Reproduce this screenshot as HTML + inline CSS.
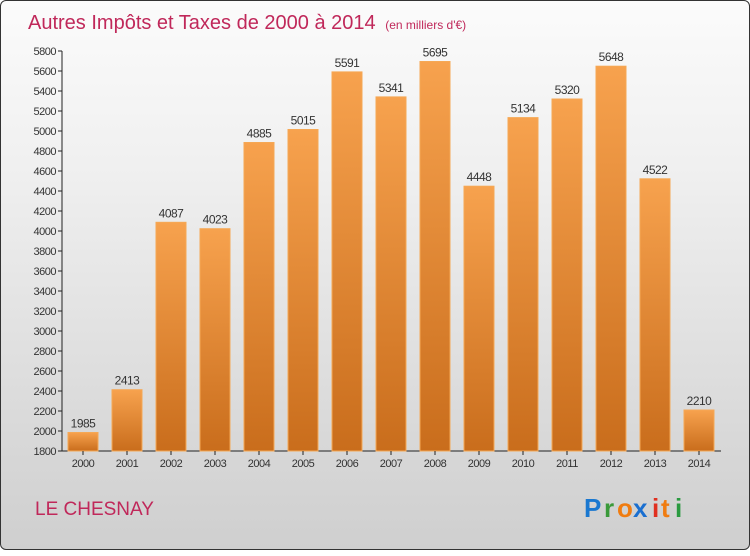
<!DOCTYPE html>
<html><head><meta charset="utf-8"><style>
body{margin:0;width:750px;height:550px;overflow:hidden;font-family:"Liberation Sans",sans-serif}
#wrap{position:absolute;left:0;top:0;width:748px;height:548px;border:1px solid #333;border-radius:6px;background:linear-gradient(#fbfbfb,#f0f0f0 30%,#d8d8d8 80%,#cfcfcf)}
</style></head><body>
<div id="wrap">
<svg width="750" height="550">
<defs><linearGradient id="bg" x1="0" y1="0" x2="0" y2="1"><stop offset="0" stop-color="#f7a24e"/><stop offset="1" stop-color="#c96d1c"/></linearGradient></defs>
<text x="27" y="28" font-size="20" fill="#c0285a">Autres Impôts et Taxes de 2000 à 2014 <tspan font-size="12" dx="4">(en milliers d'€)</tspan></text>
<g id="plot"></g>
<text x="34" y="514" font-size="19" fill="#c0285a">LE CHESNAY</text>
<g font-size="26" font-weight="bold" font-family="Liberation Sans,sans-serif">
<text x="583" y="516" fill="#1a78d0">P</text><text x="603" y="516" fill="#3a9a3a">r</text><text x="616" y="516" fill="#f07c10">o</text><text x="632" y="516" fill="#1a6fd0">x</text><text x="651" y="516" fill="#e03020">i</text><text x="660" y="516" fill="#f07c10">t</text><text x="674" y="516" fill="#2a9a40">i</text>
</g>
</svg></div>
<script>
const years=["2000","2001","2002","2003","2004","2005","2006","2007","2008","2009","2010","2011","2012","2013","2014"];
const values=[1985,2413,4087,4023,4885,5015,5591,5341,5695,4448,5134,5320,5648,4522,2210];
const yTicks=[1800,2000,2200,2400,2600,2800,3000,3200,3400,3600,3800,4000,4200,4400,4600,4800,5000,5200,5400,5600,5800];
const NS="http://www.w3.org/2000/svg",g=document.getElementById('plot');
const y=v=>450-(v-1800)*0.1, x=i=>82+i*44;
function el(t,a,txt){const e=document.createElementNS(NS,t);for(const k in a)e.setAttribute(k,a[k]);if(txt!=null)e.textContent=txt;g.appendChild(e);return e;}
let ax=el('line',{x1:61,y1:50,x2:61,y2:450,stroke:'#222'});

let bx=el('line',{x1:61,y1:450,x2:720,y2:450,stroke:'#222'});

yTicks.forEach(v=>{el('line',{x1:57,x2:61,y1:y(v),y2:y(v),stroke:'#222'});
let t=el('text',{x:55,y:y(v)+4,'font-size':11,'text-anchor':'end',fill:'#333','letter-spacing':'-0.5'},v);
});
years.forEach((yr,i)=>{const v=values[i];
let r=el('rect',{x:x(i)-15,y:y(v),width:30,height:450-y(v),fill:'url(#bg)',stroke:'#f5a855','stroke-width':1});

let l=el('text',{x:x(i),y:y(v)-5,'font-size':12,'text-anchor':'middle',fill:'#333','letter-spacing':'-0.5'},v);

el('line',{x1:x(i),x2:x(i),y1:450,y2:454,stroke:'#222'});
let xt=el('text',{x:x(i),y:466,'font-size':11,'text-anchor':'middle',fill:'#333','letter-spacing':'-0.5'},yr);
});
</script></body></html>
